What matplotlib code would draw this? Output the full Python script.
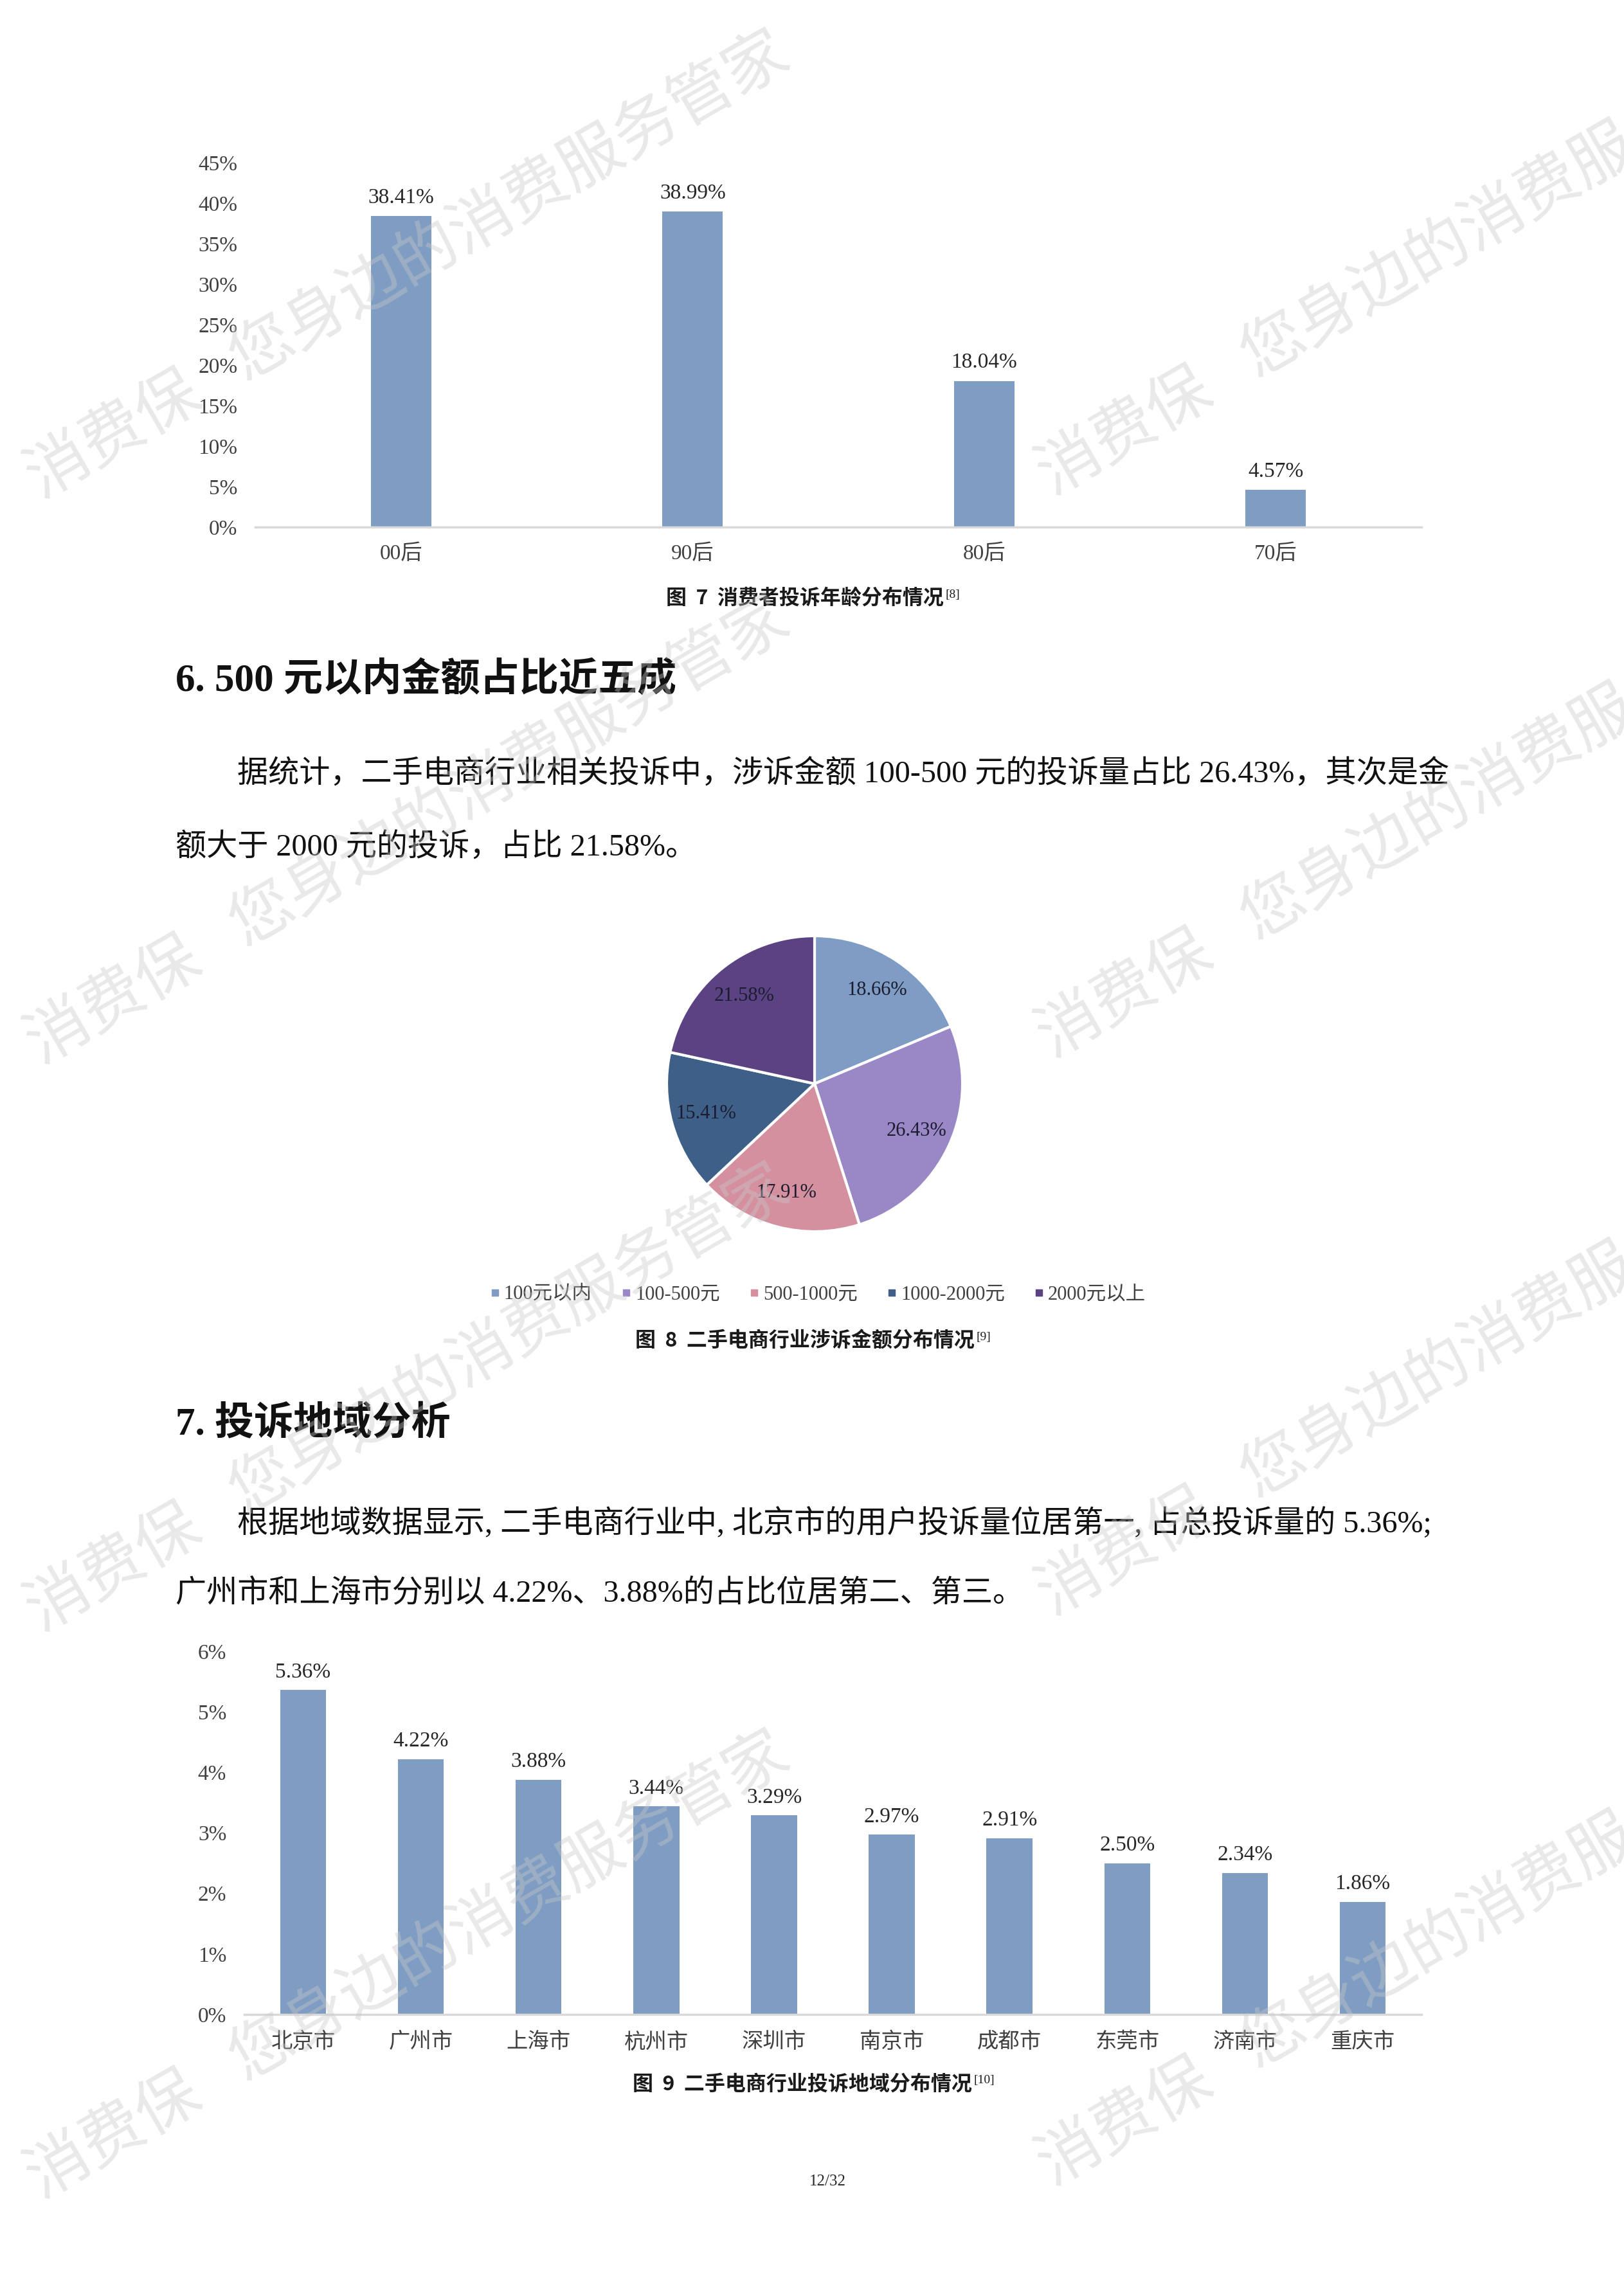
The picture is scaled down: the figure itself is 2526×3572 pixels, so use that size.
import numpy as np
import matplotlib
matplotlib.use("Agg")
import matplotlib.pyplot as plt
from matplotlib.lines import Line2D
from matplotlib.text import Annotation

plt.rcParams['font.family'] = ['Liberation Serif', 'Noto Sans CJK SC', 'DejaVu Sans']

# ---------------- data ----------------
age_groups = ['00后', '90后', '80后', '70后']
age_share = [38.41, 38.99, 18.04, 4.57]
age_ticks = [0, 5, 10, 15, 20, 25, 30, 35, 40, 45]

amount_labels = ['100元以内', '100-500元', '500-1000元', '1000-2000元', '2000元以上']
amount_share = [18.66, 26.43, 17.91, 15.41, 21.58]

cities = ['北京市', '广州市', '上海市', '杭州市', '深圳市',
          '南京市', '成都市', '东莞市', '济南市', '重庆市']
city_share = [5.36, 4.22, 3.88, 3.44, 3.29, 2.97, 2.91, 2.50, 2.34, 1.86]
city_ticks = [0, 1, 2, 3, 4, 5, 6]

# ---------------- styles ----------------
W, H = 2526, 3572
BAR = '#7f9dc3'
AXIS = '#d9d9d9'
TICK = '#404040'
LBL = '#262626'
PIE_COLORS = ['#7f9cc4', '#9a87c5', '#d4909f', '#3e5f88', '#5b4283']
CJK = ['Noto Sans CJK SC', 'DejaVu Sans']

fig = plt.figure(figsize=(W / 100, H / 100), dpi=100)
fig.patch.set_facecolor('white')


def fx(x):
    return x / W


def fy(y):
    return 1 - y / H


def bar_chart(left, right, top, bottom, cats, vals, ticks, width, lab_off, xpad):
    ax = fig.add_axes([fx(left), fy(bottom), (right - left) / W, (bottom - top) / H])
    x = np.arange(len(cats))
    ax.bar(x, vals, width=width, color=BAR, zorder=2)
    ax.set_xlim(-0.5, len(cats) - 0.5)
    ax.set_ylim(0, ticks[-1])
    ax.set_yticks(ticks)
    ax.set_yticklabels([f'{t}%' for t in ticks])
    ax.set_xticks(x)
    ax.set_xticklabels(cats)
    for s in ['top', 'right', 'left']:
        ax.spines[s].set_visible(False)
    ax.spines['bottom'].set_color(AXIS)
    ax.spines['bottom'].set_linewidth(2.5)
    ax.spines['bottom'].set_zorder(3)
    ax.tick_params(axis='y', length=0, pad=20, labelsize=24, labelcolor=TICK)
    ax.tick_params(axis='x', length=0, pad=xpad, labelsize=24, labelcolor=TICK)
    ax.set_facecolor('none')
    for xi, v in zip(x, vals):
        ax.annotate(f'{v:.2f}%', (xi, v), xytext=(0, lab_off), textcoords='offset points',
                    ha='center', va='center', fontsize=24, color=LBL)
    return ax


def caption(xc, yc, main, sup):
    t = fig.text(fx(xc), fy(yc), main, ha='center', va='center', fontsize=23,
                 fontweight='bold', family=CJK, color='#1a1a1a')
    a = Annotation(sup, xy=(1, 1), xycoords=t, xytext=(2, -1), textcoords='offset points',
                   ha='left', va='top', fontsize=14, color='#1a1a1a')
    fig.add_artist(a)


# ---------------- chart 7: age ----------------
bar_chart(397, 2211, 253, 820, age_groups, age_share, age_ticks, 0.207, 20.5, 19)
caption(1252, 932, '图  7  消费者投诉年龄分布情况', '[8]')

# ---------------- heading 6 + paragraph ----------------
fig.text(fx(273), fy(1058), '6. 500 元以内金额占比近五成', ha='left', va='center',
         fontsize=44, fontweight='bold', color='#111111')
fig.text(fx(369), fy(1204), '据统计，二手电商行业相关投诉中，涉诉金额 100-500 元的投诉量占比 26.43%，其次是金',
         ha='left', va='center', fontsize=34.7, color='#111111')
fig.text(fx(273), fy(1318), '额大于 2000 元的投诉，占比 21.58%。',
         ha='left', va='center', fontsize=34.7, color='#111111')

# ---------------- chart 8: pie ----------------
pc_x, pc_y, R, half = 1267, 1686, 230, 300
pax = fig.add_axes([fx(pc_x - half), fy(pc_y + half), 2 * half / W, 2 * half / H])
wedges, texts, autotexts = pax.pie(amount_share, colors=PIE_COLORS, startangle=90,
                                   counterclock=False, radius=1, autopct='%.2f%%',
                                   pctdistance=0.76,
                                   wedgeprops=dict(edgecolor='white', linewidth=3),
                                   textprops=dict(fontsize=22, color='#1c1c30'))
for t, v in zip(autotexts, amount_share):
    t.set_text(f'{v:.2f}%')
lim = half / R
pax.set_xlim(-lim, lim)
pax.set_ylim(-lim, lim)
pax.set_aspect('equal')
pax.axis('off')

handles = [Line2D([], [], marker='s', ls='', color=c, markersize=7) for c in PIE_COLORS]
fig.legend(handles, amount_labels, loc='center', bbox_to_anchor=(fx(1270), fy(2014)),
           ncol=5, frameon=False, fontsize=22, handletextpad=0.05, columnspacing=1.35,
           handlelength=0.8, labelcolor='#404040')
caption(1252, 2087, '图  8  二手电商行业涉诉金额分布情况', '[9]')

# ---------------- heading 7 + paragraph ----------------
fig.text(fx(273), fy(2216), '7. 投诉地域分析', ha='left', va='center',
         fontsize=44, fontweight='bold', color='#111111')
fig.text(fx(369), fy(2370), '根据地域数据显示, 二手电商行业中, 北京市的用户投诉量位居第一, 占总投诉量的 5.36%;',
         ha='left', va='center', fontsize=34.7, color='#111111')
fig.text(fx(273), fy(2480), '广州市和上海市分别以 4.22%、3.88%的占比位居第二、第三。',
         ha='left', va='center', fontsize=34.7, color='#111111')

# ---------------- chart 9: cities ----------------
bar_chart(380, 2211, 2569, 3134, cities, city_share, city_ticks, 0.39, 20, 20)
caption(1248, 3243, '图  9  二手电商行业投诉地域分布情况', '[10]')

# ---------------- page number ----------------
fig.text(fx(1287), fy(3394), '12/32', ha='center', va='center', fontsize=18, color='#262626')

# ---------------- watermark ----------------
WM_SIZE = 71
em = 99
ang = np.deg2rad(30)


def watermark(x0, y0):
    kw = dict(rotation=30, rotation_mode='anchor', ha='left', va='baseline',
              fontsize=WM_SIZE, family=CJK, fontweight='light',
              color='#c8c8c8', alpha=0.4, zorder=20)
    fig.text(fx(x0), fy(y0), '消费保', **kw)
    d = 3.7 * em
    fig.text(fx(x0 + d * np.cos(ang)), fy(y0 - d * np.sin(ang)), '您身边的消费服务管家', **kw)


for y0 in [775, 1655, 2538, 3420]:
    watermark(62, y0)
for y0 in [770, 1645, 2513, 3400]:
    watermark(1635, y0)

fig.savefig('out.png', dpi=100, facecolor='white')
